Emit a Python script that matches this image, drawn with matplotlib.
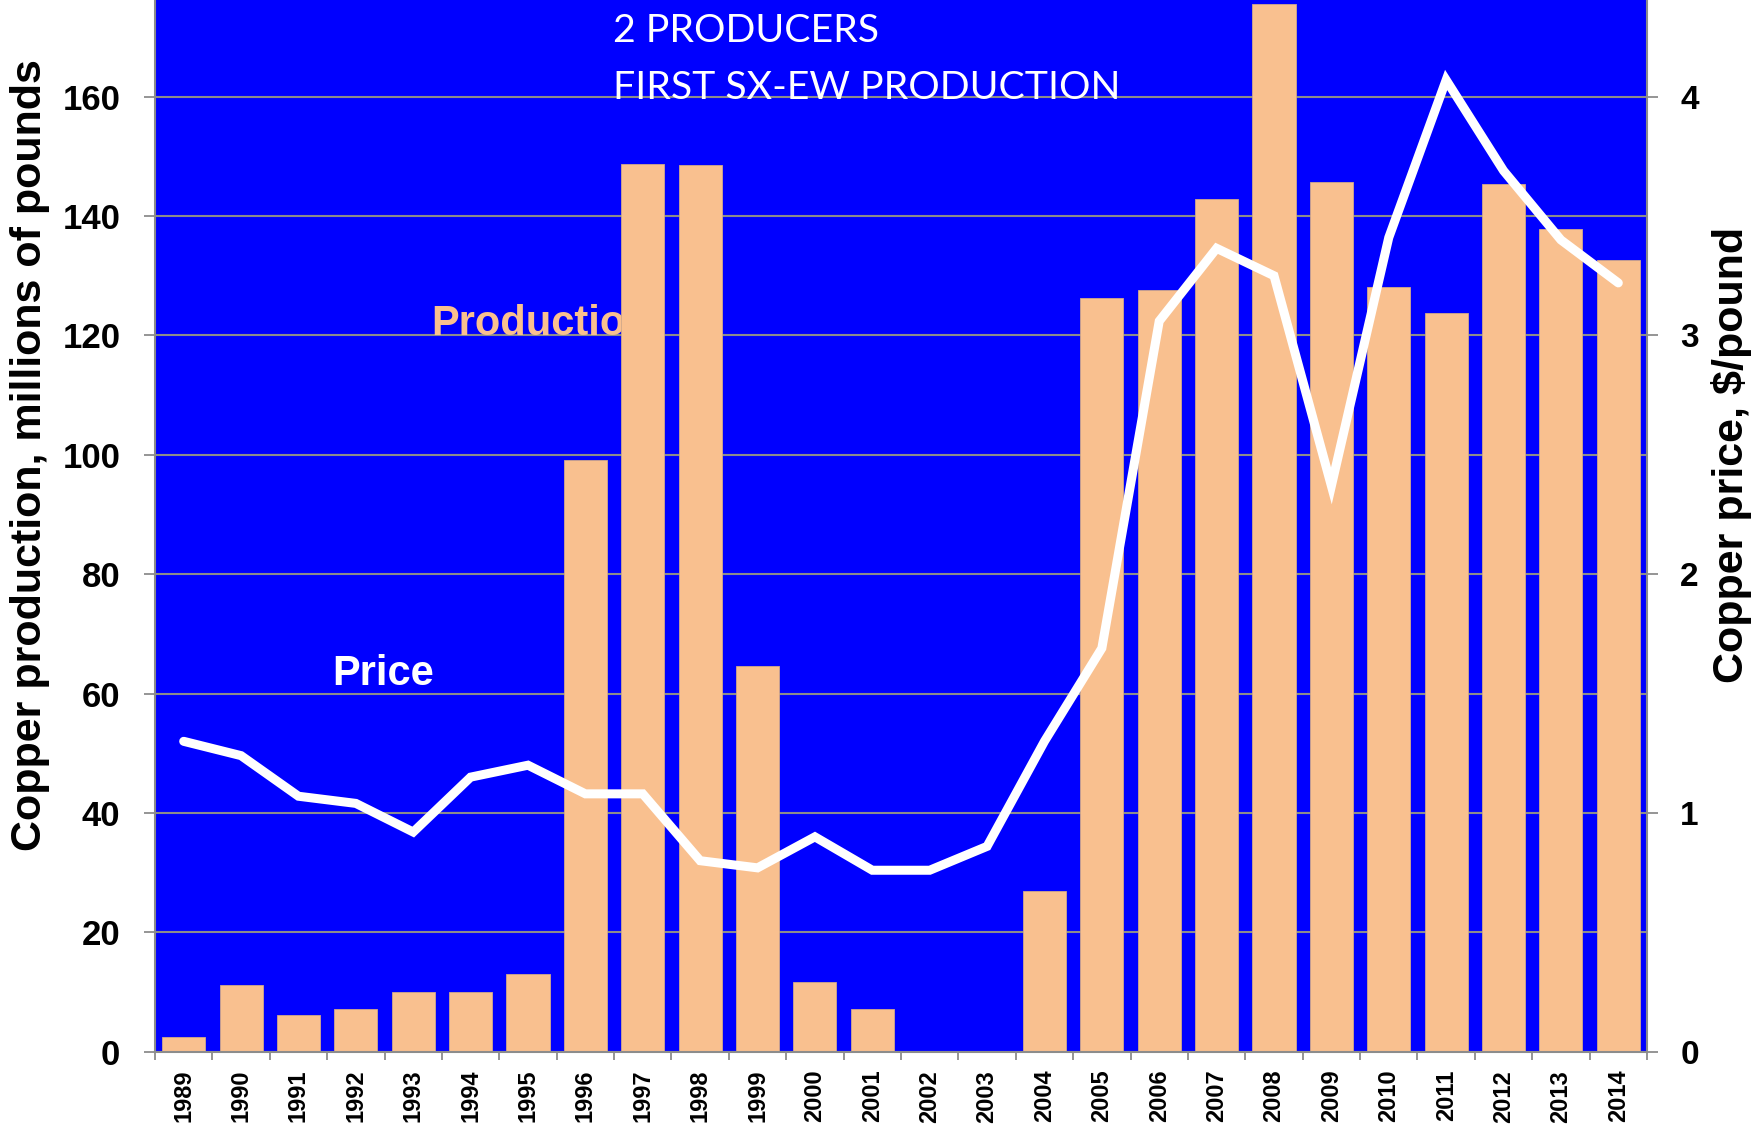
import matplotlib
matplotlib.use("Agg")
import matplotlib.pyplot as plt
import numpy as np

years = [str(y) for y in range(1989, 2015)]
production = [2.4, 11.2, 6.1, 7.1, 10.0, 10.0, 13.0, 99.1, 148.7, 148.5, 64.7, 11.7, 7.1,
              0.0, 0.0, 26.9, 126.2, 127.6, 142.8, 175.5, 145.7, 128.1, 123.8, 145.3, 137.8, 132.6]
price = [1.30, 1.24, 1.07, 1.04, 0.92, 1.15, 1.20, 1.08, 1.08, 0.80, 0.77, 0.90, 0.76,
         0.76, 0.86, 1.30, 1.69, 3.06, 3.365, 3.25, 2.37, 3.41, 4.07, 3.69, 3.40, 3.22]
left_ticks = [0, 20, 40, 60, 80, 100, 120, 140, 160]
right_ticks = [0, 1, 2, 3, 4]

BLUE = "#0000FF"
PEACH = "#F9C08F"
GRAY = "#8C8C8C"
FONT = "Liberation Sans"

W, H = 1759, 1129
fig = plt.figure(figsize=(W / 100, H / 100), dpi=100)
ax = fig.add_axes([155 / W, (H - 1051.7) / H, (1647 - 155) / W, 1051.7 / H])
ax.set_facecolor(BLUE)
x = np.arange(len(years))


def px(xp, yp):
    return xp / W, 1 - yp / H


ax.bar(x, production, width=0.75, color=PEACH, edgecolor="#D0A88A", linewidth=0.6, zorder=2)
ax.set_xlim(-0.5, len(years) - 0.5)
ymax = 176.2
ax.set_ylim(0, ymax)
ax.set_axisbelow(True)
ax.yaxis.grid(True, color=GRAY, linewidth=1.5)
ax.set_yticks(left_ticks)
ax.set_yticklabels([str(t) for t in left_ticks], fontfamily=FONT, fontweight="bold", fontsize=25)
ax.tick_params(axis="y", length=8, width=1.3, color=GRAY, pad=17)

ax.set_xticks(np.arange(-0.5, len(years), 1.0))
ax.set_xticklabels([])
ax.tick_params(axis="x", which="major", length=6, width=1.3, color=GRAY)
ax.set_xticks(x, minor=True)
ax.set_xticklabels(years, minor=True, rotation=90, fontfamily=FONT, fontweight="bold", fontsize=17)
ax.tick_params(axis="x", which="minor", length=0, pad=13)

for s in ["left", "right", "bottom"]:
    ax.spines[s].set_color(GRAY)
    ax.spines[s].set_linewidth(1.5)
ax.spines["top"].set_visible(False)

ax.text(*px(431, 335), "Production", transform=fig.transFigure, fontfamily=FONT, fontweight="bold",
        fontsize=30, color=PEACH, zorder=1, va="baseline", ha="left")

ax2 = ax.twinx()
ax2.set_ylim(0, ymax / 40)
ax2.plot(x, price, color="white", linewidth=6.5, solid_capstyle="round", solid_joinstyle="miter", zorder=5)
ax2.set_yticks(right_ticks)
ax2.set_yticklabels([str(t) for t in right_ticks], fontfamily=FONT, fontweight="bold", fontsize=24)
ax2.tick_params(axis="y", length=8, width=1.3, color=GRAY, pad=16)
for s in ["left", "right", "bottom", "top"]:
    ax2.spines[s].set_visible(False)

fig.text(*px(332, 685), "Price", fontfamily=FONT, fontweight="bold", fontsize=30,
         color="white", va="baseline", ha="left", zorder=10)
fig.text(*px(613, 41.7), "2 PRODUCERS", fontfamily="Lato", fontsize=28.3,
         color="white", va="baseline", ha="left", zorder=10)
fig.text(*px(613, 99.3), "FIRST SX-EW PRODUCTION", fontfamily="Lato", fontsize=28.3,
         color="white", va="baseline", ha="left", zorder=10)

fig.text(*px(30, 455), "Copper production, millions of pounds", rotation=90,
         fontfamily=FONT, fontweight="bold", fontsize=31, ha="center", va="center")
fig.text(*px(1731, 455), "Copper price, $/pound", rotation=90,
         fontfamily=FONT, fontweight="bold", fontsize=31, ha="center", va="center")

fig.savefig("out.png", dpi=100)
